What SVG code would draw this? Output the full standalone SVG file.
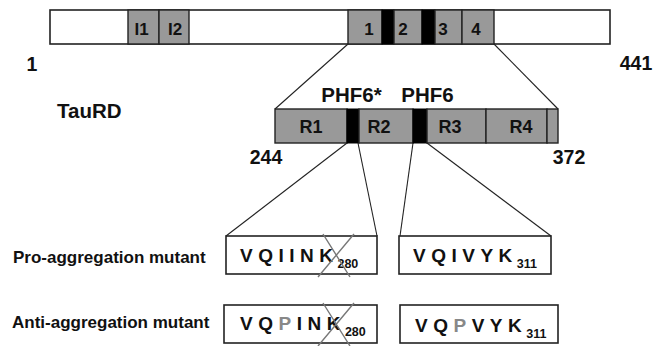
<svg xmlns="http://www.w3.org/2000/svg" width="655" height="346" viewBox="0 0 655 346">
<style>
text{font-family:"Liberation Sans",Arial,sans-serif;font-weight:bold;fill:#111}
.bar{fill:#fff;stroke:#222;stroke-width:1.6}
.g{fill:#999;stroke:#222;stroke-width:1.4}
.k{fill:#000;stroke:#000;stroke-width:1}
.seg{font-size:17px;text-anchor:middle}
.num{font-size:19.5px;text-anchor:middle}
.lab{font-size:17px}
.seq{font-size:19px;letter-spacing:5.5px}
.sub{font-size:12.5px;letter-spacing:0}
.box{fill:#fff;stroke:#222;stroke-width:1.6}
.x{stroke:#777;stroke-width:1.4;fill:none}
.conn line{stroke:#222;stroke-width:1.1}
</style>

<g id="tau-full">
<rect class="bar" x="50" y="10" width="560" height="34"/>
<rect class="g" x="128" y="10" width="31" height="34"/>
<rect class="g" x="159" y="10" width="30" height="34"/>
<rect class="g" x="348" y="10" width="34" height="34"/>
<rect class="k" x="382" y="10" width="12" height="34"/>
<rect class="g" x="394" y="10" width="28" height="34"/>
<rect class="k" x="422" y="10" width="13" height="34"/>
<rect class="g" x="435" y="10" width="27" height="34"/>
<rect class="g" x="462" y="10" width="32" height="34"/>
<text class="seg" x="141.5" y="35">I1</text>
<text class="seg" x="175" y="35">I2</text>
<text class="seg" x="369" y="35">1</text>
<text class="seg" x="403" y="35">2</text>
<text class="seg" x="443" y="35">3</text>
<text class="seg" x="476" y="35">4</text>
<text class="num" x="32" y="71">1</text>
<text class="num" x="636" y="70">441</text>
</g>

<g id="taurd">
<text style="font-size:20.5px" x="57" y="118">TauRD</text>
<rect class="g" x="275" y="109" width="72" height="34"/>
<rect class="k" x="347" y="109" width="12" height="34"/>
<rect class="g" x="359" y="109" width="54" height="34"/>
<rect class="k" x="413" y="109" width="14" height="34"/>
<rect class="g" x="427" y="109" width="59" height="34"/>
<rect class="g" x="486" y="109" width="61" height="34"/>
<rect class="g" x="547" y="109" width="11" height="34"/>
<text class="seg" style="font-size:18px" x="311" y="133">R1</text>
<text class="seg" style="font-size:18px" x="379" y="133">R2</text>
<text class="seg" style="font-size:18px" x="450" y="133">R3</text>
<text class="seg" style="font-size:18px" x="521" y="133">R4</text>
<text class="num" style="font-size:20.5px" x="351.5" y="102">PHF6*</text>
<text class="num" style="font-size:20.5px" x="427.5" y="102">PHF6</text>
<text class="num" x="266" y="164">244</text>
<text class="num" x="569" y="164">372</text>
</g>

<g id="labels">
<text class="lab" x="13" y="263">Pro-aggregation mutant</text>
<text class="lab" x="12" y="328">Anti-aggregation mutant</text>
</g>

<g id="pro-phf6star">
<rect class="box" x="226" y="236" width="151" height="38"/>
<text class="seq" x="240" y="262">VQIINK<tspan class="sub" dx="-1" dy="6">280</tspan></text>
<path class="x" d="M323,234 L350,277 M354,234 L318,277"/>
</g>

<g id="pro-phf6">
<rect class="box" x="399" y="236" width="152" height="38"/>
<text class="seq" x="413" y="262">VQIVYK<tspan class="sub" dx="-1" dy="6">311</tspan></text>
</g>

<g id="anti-phf6star">
<rect class="box" x="224" y="305" width="153" height="38"/>
<text class="seq" x="240" y="330">VQ<tspan fill="#888">P</tspan>INK<tspan class="sub" dx="-1" dy="6">280</tspan></text>
<path class="x" d="M323,303 L350,346 M354,303 L318,346"/>
</g>

<g id="anti-phf6">
<rect class="box" x="400" y="305" width="158" height="38"/>
<text class="seq" x="415" y="332">VQ<tspan fill="#888">P</tspan>VYK<tspan class="sub" dx="-1" dy="6">311</tspan></text>
</g>

<g id="connectors" class="conn">
<line x1="348" y1="44" x2="275" y2="109"/>
<line x1="494" y1="44" x2="558" y2="109"/>
<line x1="347" y1="143" x2="226" y2="236"/>
<line x1="358" y1="143" x2="377" y2="236"/>
<line x1="413" y1="143" x2="400" y2="236"/>
<line x1="427" y1="143" x2="551" y2="236"/>
</g>
</svg>
